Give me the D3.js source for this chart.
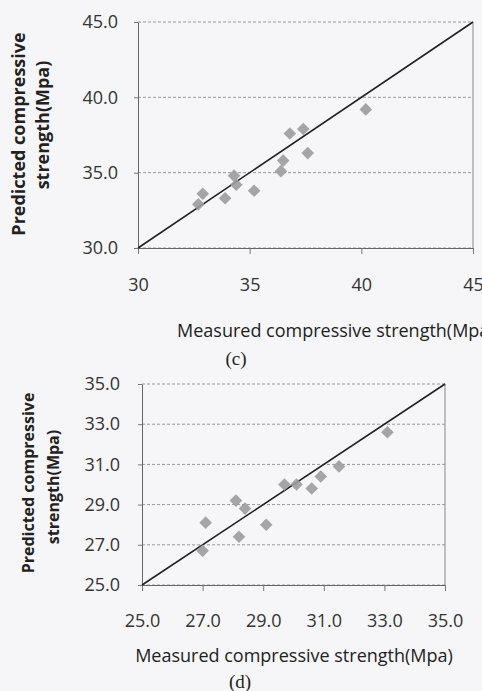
<!DOCTYPE html>
<html>
<head>
<meta charset="utf-8">
<title>Measured vs predicted compressive strength</title>
<script src="https://cdn.jsdelivr.net/npm/d3@7"></script>
<style>
  body { margin: 0; background: #f6f6f8; }
  svg { display: block; }
  .tick text { font-family: "Open Sans", sans-serif; fill: #333; }
</style>
</head>
<body>
<script>
    // (c) panel
    var measuredC  = [32.7, 32.9, 33.9, 34.3, 34.4, 35.2, 36.4, 36.5, 36.8, 37.4, 37.6, 40.2];
    var predictedC = [32.9, 33.6, 33.3, 34.8, 34.2, 33.8, 35.1, 35.8, 37.6, 37.9, 36.3, 39.2];
    var ticksXC = [30, 35, 40, 45];
    var ticksYC = [30, 35, 40, 45];

    // (d) panel
    var measuredD  = [27.0, 27.1, 28.1, 28.2, 28.4, 29.1, 29.7, 30.1, 30.6, 30.9, 31.5, 33.1];
    var predictedD = [26.7, 28.1, 29.2, 27.4, 28.8, 28.0, 30.0, 30.0, 29.8, 30.4, 30.9, 32.6];
    var ticksD = [25, 27, 29, 31, 33, 35];

    var xTitle = "Measured compressive strength(Mpa)";
    var yTitle1 = "Predicted compressive";
    var yTitle2 = "strength(Mpa)";

    var width = 482, height = 691;

    var svg = d3.select("body").append("svg")
        .attr("width", width)
        .attr("height", height);

    function panel(o) {
        var x = d3.scaleLinear().domain(o.domain).range([o.left, o.right]);
        var y = d3.scaleLinear().domain(o.domain).range([o.bottom, o.top]);
        var g = svg.append("g");

        // gridlines
        g.selectAll("line.grid")
            .data(o.ticksY)
            .enter().append("line")
            .attr("class", "grid")
            .attr("x1", o.left).attr("x2", o.right)
            .attr("y1", function(d) { return y(d); })
            .attr("y2", function(d) { return y(d); })
            .attr("stroke", "#9a9a9a")
            .attr("stroke-width", 1)
            .attr("stroke-dasharray", "3,2");

        // right frame
        g.append("line")
            .attr("x1", o.right).attr("x2", o.right)
            .attr("y1", o.top).attr("y2", o.bottom)
            .attr("stroke", "#888");

        // axes
        var xAxis = d3.axisBottom(x).tickValues(o.ticksX).tickFormat(d3.format(o.fmtX))
            .tickSizeInner(6).tickSizeOuter(0).tickPadding(o.padX);
        var yAxis = d3.axisLeft(y).tickValues(o.ticksY).tickFormat(d3.format(".1f"))
            .tickSizeInner(4).tickSizeOuter(0).tickPadding(o.padY);

        var gx = g.append("g").attr("transform", "translate(0," + o.bottom + ")").call(xAxis);
        var gy = g.append("g").attr("transform", "translate(" + o.left + ",0)").call(yAxis);
        [gx, gy].forEach(function(a) {
            a.select(".domain").attr("stroke", "#666");
            a.selectAll(".tick line").attr("stroke", "#777");
            a.selectAll(".tick text").attr("font-size", 18);
        });

        // 1:1 line
        var line = d3.line()
            .x(function(d) { return x(d); })
            .y(function(d) { return y(d); });
        g.append("path")
            .datum(o.domain)
            .attr("d", line)
            .attr("stroke", "#222")
            .attr("stroke-width", 1.6)
            .attr("fill", "none");

        // diamonds
        var sym = d3.symbol().type(d3.symbolSquare).size(80);
        g.selectAll("path.pt")
            .data(o.mx)
            .enter().append("path")
            .attr("class", "pt")
            .attr("d", sym)
            .attr("transform", function(d, i) {
                return "translate(" + x(d) + "," + y(o.py[i]) + ") rotate(45)";
            })
            .attr("fill", "#9c9c9e")
            .attr("opacity", 0.9);

        // titles
        g.append("text")
            .attr("x", o.xtX).attr("y", o.xtY)
            .attr("text-anchor", o.xtAnchor)
            .attr("font-family", "Open Sans, sans-serif")
            .attr("font-size", 18)
            .attr("fill", "#222")
            .text(xTitle);

        var yt = g.append("text")
            .attr("transform", "translate(" + o.ytX + "," + o.ytY + ") rotate(-90)")
            .attr("text-anchor", "middle")
            .attr("font-family", "Open Sans, sans-serif")
            .attr("font-weight", "bold")
            .attr("font-size", o.ytFont)
            .attr("fill", "#222");
        yt.append("tspan").attr("x", 0).attr("dy", 0).text(yTitle1);
        yt.append("tspan").attr("x", o.yt2Shift).attr("dy", o.ytGap).text(yTitle2);

        g.append("text")
            .attr("x", o.capX).attr("y", o.capY)
            .attr("text-anchor", "middle")
            .attr("font-family", "Liberation Serif, serif")
            .attr("font-size", 19)
            .attr("fill", "#222")
            .text(o.caption);
    }

    panel({
        mx: measuredC, py: predictedC, domain: [30, 45],
        ticksX: ticksXC, ticksY: ticksYC, fmtX: "d", padX: 24, padY: 16,
        left: 138, right: 473, top: 22, bottom: 248,
        xtX: 177, xtY: 337, xtAnchor: "start",
        ytX: 25, ytY: 134, ytFont: 18, ytGap: 24, yt2Shift: 9,
        capX: 236, capY: 365, caption: "(c)"
    });

    panel({
        mx: measuredD, py: predictedD, domain: [25, 35],
        ticksX: ticksD, ticksY: ticksD, fmtX: ".1f", padX: 23, padY: 18,
        left: 142, right: 445, top: 384, bottom: 585,
        xtX: 294, xtY: 662, xtAnchor: "middle",
        ytX: 34, ytY: 483, ytFont: 16, ytGap: 25, yt2Shift: -4,
        capX: 240, capY: 688, caption: "(d)"
    });
</script>
</body>
</html>
